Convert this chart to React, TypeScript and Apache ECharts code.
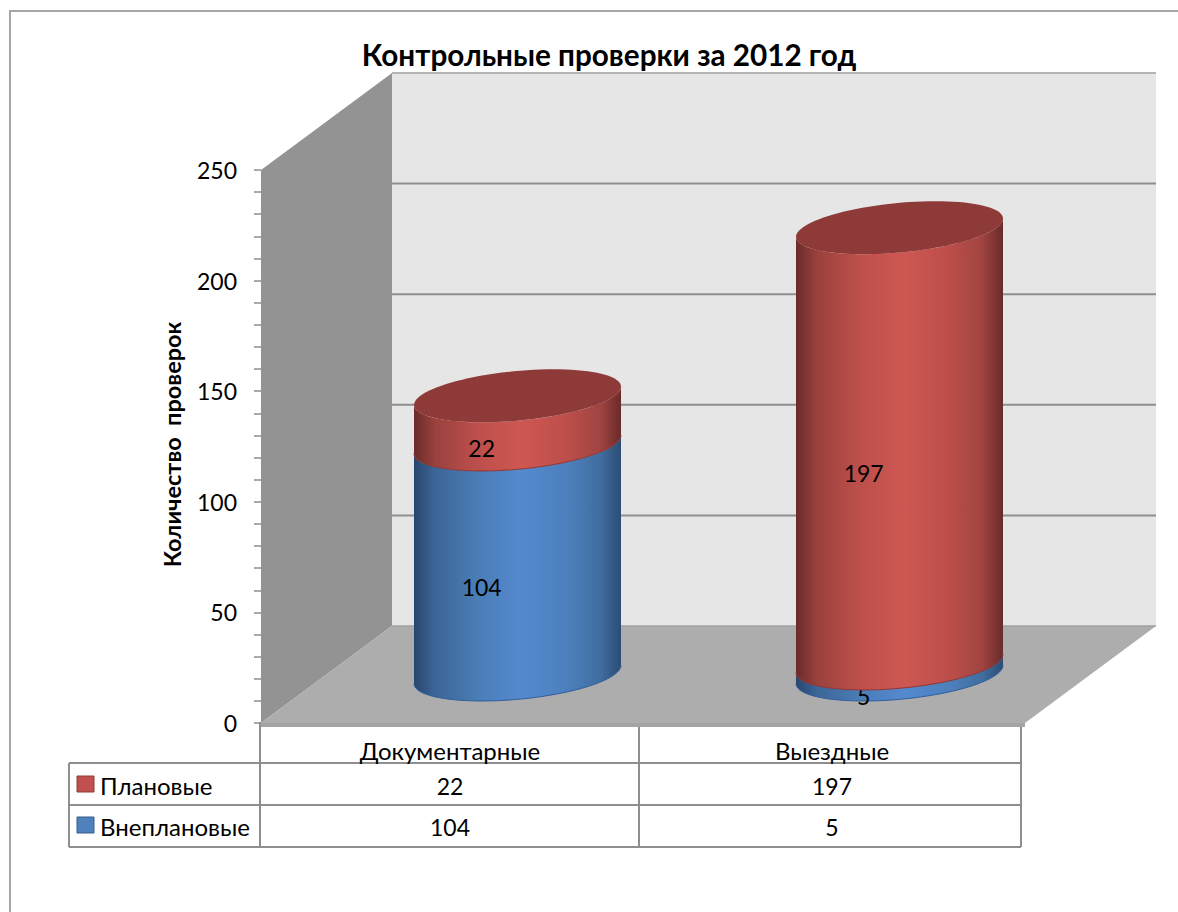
import React, { useEffect, useRef } from "react";
import * as echarts from "echarts";

const categories = ["Документарные", "Выездные"];
const plannedName = "Плановые";
const unplannedName = "Внеплановые";
const planned = [22, 197];
const unplanned = [104, 5];
const chartTitle = "Контрольные проверки за 2012 год";
const yTitle = "Количество  проверок";
const gridValues = [50, 100, 150, 200, 250];

const FONT = "Lato, 'Noto Sans', sans-serif";
const DX = 131;
const DY = 97;
const RX_A = 97.1;
const RX_B = 35.8;
const RY = 26.5;
const T0 = Math.atan2(RX_B, RX_A);

const RED = { top: "#8e3a38", edge: "#8f3533", stops: ["#6a2b29", "#9a413e", "#bc4f4b", "#cf5752", "#bb4e4a", "#a04441", "#692b29"] };
const BLUE = { top: "#2f5a8f", edge: "#2f5f9c", stops: ["#27466d", "#3c6597", "#4a7cb5", "#5589cf", "#4c7fbb", "#416d9f", "#2c4c75"] };
const STOP_AT = [0, 0.1, 0.3, 0.52, 0.75, 0.9, 1];

function ellipsePoint(cx: number, cy: number, t: number): number[] {
  return [cx + RX_A * Math.cos(t) + RX_B * Math.sin(t), cy - RY * Math.sin(t)];
}

function lowerArc(cx: number, cy: number): number[][] {
  const pts: number[][] = [];
  const n = 48;
  for (let i = 0; i <= n; i++) {
    const t = T0 + Math.PI + (Math.PI * i) / n;
    pts.push(ellipsePoint(cx, cy, t));
  }
  return pts;
}

function fullEllipse(cx: number, cy: number): number[][] {
  const pts: number[][] = [];
  const n = 96;
  for (let i = 0; i < n; i++) pts.push(ellipsePoint(cx, cy, (2 * Math.PI * i) / n));
  return pts;
}

function cylinderItem(palette: typeof RED, withTop: boolean) {
  return (_params: any, api: any) => {
    const idx = api.value(0);
    const lo = api.value(1);
    const hi = api.value(2);
    const base = api.coord([idx, lo]);
    const top = api.coord([idx, hi]);
    const cx = base[0] + DX / 2;
    const yLo = base[1] - DY / 2;
    const yHi = top[1] - DY / 2;
    const bottom = lowerArc(cx, yLo);
    const upper = lowerArc(cx, yHi).reverse();
    const fill = new echarts.graphic.LinearGradient(
      0, 0, 1, 0,
      palette.stops.map((color, i) => ({ offset: STOP_AT[i], color }))
    );
    const children: any[] = [
      { type: "polygon", shape: { points: bottom.concat(upper) }, style: { fill } },
      { type: "polyline", shape: { points: bottom }, style: { fill: "none", stroke: palette.edge, lineWidth: 1 } },
    ];
    if (withTop) {
      children.push({ type: "polygon", shape: { points: fullEllipse(cx, yHi) }, style: { fill: palette.top } });
    }
    children.push({
      type: "text",
      z2: 50,
      style: {
        x: cx - RX_B,
        y: (yLo + yHi) / 2 + RY + 1,
        text: String(hi - lo),
        fill: "#000",
        font: `23px ${FONT}`,
        align: "center",
        verticalAlign: "middle",
      },
    });
    return { type: "group", children };
  };
}

function wallsItem(_params: any, api: any) {
  const [xFirst, y0] = api.coord([0, 0]);
  const [xLast] = api.coord([1, 0]);
  const band = xLast - xFirst;
  const x0 = xFirst - band / 2;
  const x1 = xLast + band / 2;
  const yTop = api.coord([0, 250])[1];
  const children: any[] = [
    { type: "polygon", shape: { points: [[x0 + DX, yTop - DY], [x1 + DX, yTop - DY], [x1 + DX, y0 - DY], [x0 + DX, y0 - DY]] }, style: { fill: "#e6e6e6" } },
    { type: "polygon", shape: { points: [[x0, yTop], [x0 + DX, yTop - DY], [x0 + DX, y0 - DY], [x0, y0]] }, style: { fill: "#939393" } },
    { type: "polygon", shape: { points: [[x0, y0], [x0 + DX, y0 - DY], [x1 + DX, y0 - DY], [x1, y0]] }, style: { fill: "#adadad" } },
    { type: "rect", shape: { x: x0, y: y0, width: x1 - x0, height: 4 }, style: { fill: "#a4a4a4" } },
    { type: "line", shape: { x1: x0 + DX, y1: yTop - DY, x2: x1 + DX, y2: yTop - DY }, style: { stroke: "#b4b4b4", lineWidth: 2 } },
    { type: "line", shape: { x1: x0 + DX, y1: y0 - DY, x2: x1 + DX, y2: y0 - DY }, style: { stroke: "#a2a2a2", lineWidth: 1.5 } },
  ];
  gridValues.forEach((v) => {
    const y = api.coord([0, v])[1];
    if (v < 250) {
      children.push({ type: "line", shape: { x1: x0 + DX, y1: y - DY, x2: x1 + DX, y2: y - DY }, style: { stroke: "#8f8f8f", lineWidth: 2 } });
      children.push({ type: "line", shape: { x1: x0, y1: y, x2: x0 + DX, y2: y - DY }, style: { stroke: "#989898", lineWidth: 1 } });
    }
  });
  return { type: "group", children };
}

function tableGraphics(): any[] {
  const line = "#8e8e8e";
  const center = [450, 832];
  const lines: number[][] = [
    [260, 722, 260, 847],
    [639, 727, 639, 847],
    [1021, 727, 1021, 847],
    [69, 763, 69, 847],
    [69, 763, 1021, 763],
    [69, 805, 1021, 805],
    [69, 847, 1021, 847],
  ];
  const els: any[] = lines.map(([x1, y1, x2, y2]) => ({
    type: "line",
    shape: { x1, y1, x2, y2 },
    style: { stroke: line, lineWidth: 2 },
  }));
  const rows = [
    { name: plannedName, values: planned, fill: "#c0504d", border: "#8e3a38", mid: 784 },
    { name: unplannedName, values: unplanned, fill: "#4f81bd", border: "#385d8a", mid: 825 },
  ];
  rows.forEach((r) => {
    els.push({ type: "rect", shape: { x: 77, y: r.mid - 8, width: 17, height: 16 }, style: { fill: r.fill, stroke: r.border, lineWidth: 1 } });
    els.push({ type: "text", style: { x: 100, y: r.mid + 1, text: r.name, fill: "#000", font: `24px ${FONT}`, align: "left", verticalAlign: "middle" } });
    r.values.forEach((v, c) => {
      els.push({ type: "text", style: { x: center[c], y: r.mid + 2, text: String(v), fill: "#000", font: `23px ${FONT}`, align: "center", verticalAlign: "middle" } });
    });
  });
  return els;
}

export default function App() {
  const ref = useRef<HTMLDivElement>(null);
  useEffect(() => {
    document.body.style.margin = "0";
    const chart = echarts.init(ref.current!, null, { renderer: "svg" });
    chart.setOption({
      animation: false,
      backgroundColor: "#ffffff",
      title: {
        text: chartTitle,
        left: 604,
        top: 34,
        textAlign: "center",
        textStyle: { fontFamily: FONT, fontSize: 29.7, fontWeight: "bold", color: "#000" },
      },
      grid: { left: 261, top: 170, width: 764, height: 553, containLabel: false },
      xAxis: {
        type: "category",
        data: categories,
        axisLine: { show: false },
        axisTick: { show: false },
        axisLabel: { margin: 15, color: "#000", fontFamily: FONT, fontSize: 24, padding: [0, 4, 0, 0] },
      },
      yAxis: {
        type: "value",
        min: 0,
        max: 250,
        interval: 50,
        name: yTitle,
        nameLocation: "middle",
        nameGap: 77,
        nameRotate: 90,
        nameTextStyle: { fontFamily: FONT, fontSize: 23.5, fontWeight: "bold", color: "#000", padding: [0, 0, 0, 4] },
        axisLine: { show: false },
        axisTick: { show: true, length: 7, lineStyle: { color: "#8e8e8e", width: 1.5 } },
        minorTick: { show: true, splitNumber: 5, length: 7, lineStyle: { color: "#8e8e8e", width: 1.5 } },
        splitLine: { show: false },
        axisLabel: { margin: 24, color: "#000", fontFamily: FONT, fontSize: 23, padding: [7, 0, 0, 0] },
      },
      graphic: [
        { type: "rect", z: -1, shape: { x: 10, y: 11, width: 1300, height: 1100 }, style: { fill: "none", stroke: "#a6a6a6", lineWidth: 2 } },
        ...tableGraphics(),
      ],
      series: [
        { type: "custom", name: "walls", z: 1, data: [[0, 0]], renderItem: wallsItem, silent: true },
        {
          type: "custom",
          name: unplannedName,
          z: 2,
          encode: { x: 0, y: [1, 2] },
          data: unplanned.map((v, i) => [i, 0, v]),
          renderItem: cylinderItem(BLUE, false),
        },
        {
          type: "custom",
          name: plannedName,
          z: 3,
          encode: { x: 0, y: [1, 2] },
          data: planned.map((v, i) => [i, unplanned[i], unplanned[i] + v]),
          renderItem: cylinderItem(RED, true),
        },
      ],
    });
    return () => chart.dispose();
  }, []);
  return <div ref={ref} style={{ width: 1178, height: 912 }} />;
}
